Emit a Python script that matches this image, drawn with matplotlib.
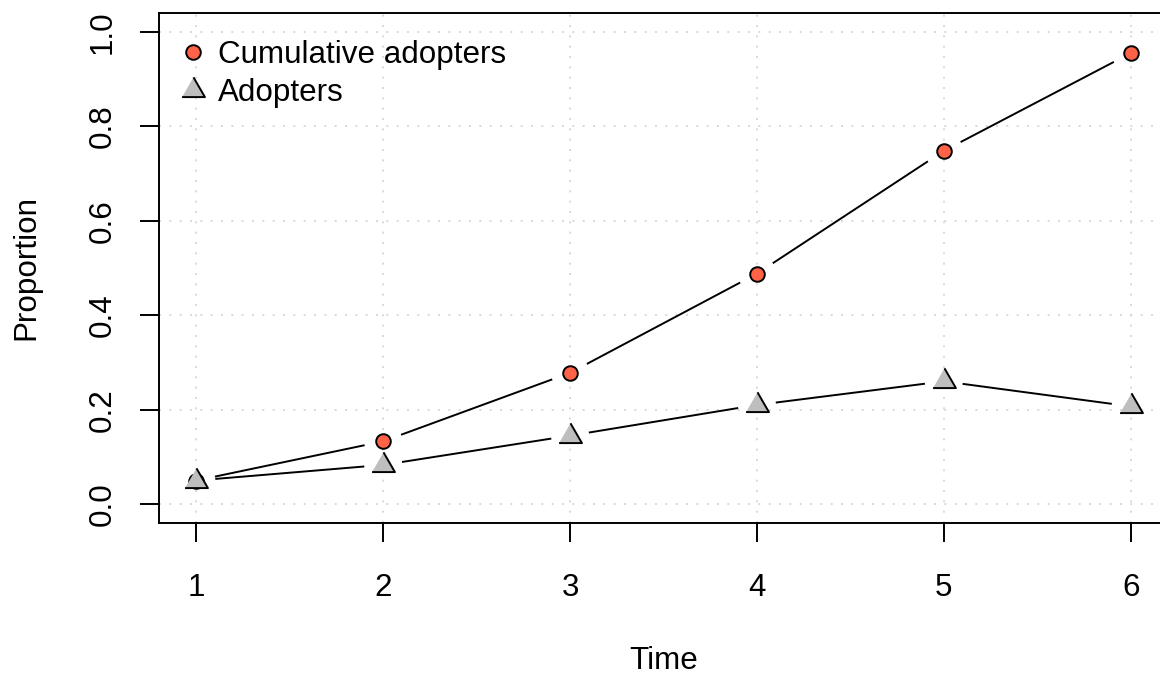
"""
Cumulative adopters vs adopters per period (R base-graphics look, type="b").
Writes out.png.
"""

import numpy as np
import matplotlib
matplotlib.use("Agg")
import matplotlib.pyplot as plt

plt.rcParams["font.family"] = ["Liberation Sans", "DejaVu Sans"]

time = [1, 2, 3, 4, 5, 6]
cumulative = [0.05, 0.133, 0.278, 0.488, 0.748, 0.955]
adopters = [0.05, 0.083, 0.145, 0.210, 0.260, 0.207]
labels = ["Cumulative adopters", "Adopters"]

W, H, DPI = 1160, 677, 100
FS = 22.6
GAP = 19  # px gap between line ends and point centre


def gapped_line(ax, xs, ys):
    # R type="b": segments stop short of each point
    pts = ax.transData.transform(np.column_stack([xs, ys]))
    inv = ax.transData.inverted()
    for p0, p1 in zip(pts[:-1], pts[1:]):
        d = p1 - p0
        n = np.hypot(*d)
        if n <= 2 * GAP:
            continue
        u = d / n
        a, b = inv.transform([p0 + u * GAP, p1 - u * GAP])
        ax.plot([a[0], b[0]], [a[1], b[1]], color="black", lw=1.4,
                solid_capstyle="butt", zorder=2)


fig = plt.figure(figsize=(W / DPI, H / DPI), dpi=DPI)
left, right, top, bottom = 159, 1168, 13, 523
ax = fig.add_axes([left / W, 1 - bottom / H, (right - left) / W, (bottom - top) / H])
ax.set_xlim(0.8, 6.2)
ax.set_ylim(-0.04, 1.04)

for s in ax.spines.values():
    s.set_linewidth(1.4)
    s.set_clip_on(False)

ax.set_xticks(time)
ax.set_yticks(np.arange(0, 1.01, 0.2))
ax.set_yticklabels([f"{v:.1f}" for v in np.arange(0, 1.01, 0.2)],
                   rotation=90, va="center")
ax.tick_params(direction="out", length=14, width=1.4, labelsize=FS,
               color="black")
ax.tick_params(axis="x", pad=22)
ax.tick_params(axis="y", pad=16)

ax.grid(True, color="#D3D3D3", linestyle=(0, (1.2, 5)), linewidth=1.2, zorder=0)
ax.set_axisbelow(True)

ax.set_xlabel("Time", fontsize=FS, labelpad=31)
ax.set_ylabel("Proportion", fontsize=FS, labelpad=33)

tri = [(-1, -0.577), (1, -0.577), (0, 1.155)]

gapped_line(ax, time, cumulative)
gapped_line(ax, time, adopters)
ax.plot(time, cumulative, linestyle="none", marker="o", markersize=10.5,
        markerfacecolor="#FF6347", markeredgecolor="black",
        markeredgewidth=1.4, label=labels[0], zorder=3)
ax.plot(time, adopters, linestyle="none", marker=tri, markersize=19,
        markerfacecolor="#BEBEBE", markeredgecolor="black",
        markeredgewidth=1.4, label=labels[1], zorder=4)

ax.legend(loc="upper left", frameon=False, fontsize=FS,
          bbox_to_anchor=(18 / (right - left), 1 - 27 / (bottom - top)),
          borderaxespad=0, borderpad=0, handlelength=1.0,
          handletextpad=0.3, labelspacing=0.27)

fig.savefig("out.png", dpi=DPI)
